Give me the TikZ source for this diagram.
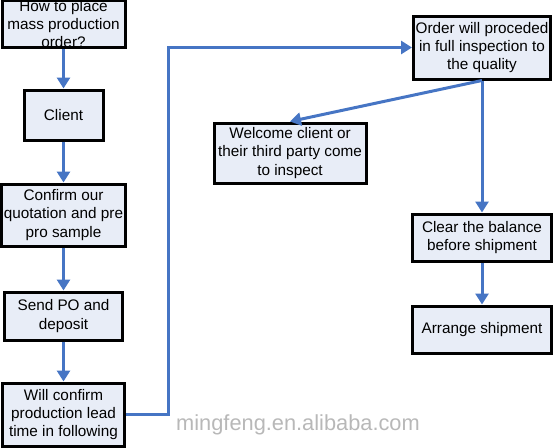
\documentclass[tikz,border=0pt]{standalone}
\usepackage{fontspec}
\setmainfont{Liberation Sans}
\usetikzlibrary{arrows.meta}
\definecolor{boxfill}{RGB}{232,237,247}
\definecolor{flowblue}{RGB}{70,117,196}
\tikzset{
  stepbox/.style={draw=black, line width=3pt, fill=boxfill, inner sep=0pt,
    align=center, font=\fontsize{15.3}{18.3}\selectfont},
  flow/.style={draw=flowblue, line width=3pt,
    -{Triangle[length=11pt,width=13pt]}}
}
\begin{document}
\begin{tikzpicture}[x=1pt, y=-1pt]
                \useasboundingbox (0,0) rectangle (554,447);
                % Nodes
                \node[stepbox, minimum width=123pt, minimum height=44pt] (place) at (63.5,24) {How to place\\mass production\\order?};
                \node[stepbox, minimum width=79pt, minimum height=50pt] (client) at (63.5,115) {Client};
                \node[stepbox, minimum width=124pt, minimum height=62pt] (confirm) at (63.5,215) {Confirm our\\quotation and pre\\pro sample};
                \node[stepbox, minimum width=118pt, minimum height=48pt] (sendpo) at (63.5,316) {Send PO and\\deposit};
                \node[stepbox, minimum width=122pt, minimum height=63pt] (leadtime) at (63.5,414.5) {Will confirm\\production lead\\time in following};
                \node[stepbox, minimum width=137pt, minimum height=63pt] (order) at (482,47.5) {Order will proceded\\in full inspection to\\the quality};
                \node[stepbox, minimum width=152pt, minimum height=60pt] (welcome) at (290,153) {Welcome client or\\their third party come\\to inspect};
                \node[stepbox, minimum width=139pt, minimum height=47pt] (balance) at (482,237.5) {Clear the balance\\before shipment};
                \node[stepbox, minimum width=139pt, minimum height=47pt] (shipment) at (482,329.5) {Arrange shipment};
                \node[text=black!28, font=\fontsize{21.8}{24}\selectfont] (watermark) at (298,425) {mingfeng.en.alibaba.com};
                \coordinate (bend) at (168,47.5);

                % Edges
                \draw[flow] (place)--(client);
                \draw[flow] (client)--(confirm);
                \draw[flow] (confirm)--(sendpo);
                \draw[flow] (sendpo)--(leadtime);
                \draw[flow] (leadtime.east) -| (bend) -- (order.west);
                \draw[flow] (order.south)--(welcome.north);
                \draw[flow] (order.south)--(balance.north);
                \draw[flow] (balance)--(shipment);
            \end{tikzpicture}
\end{document}
